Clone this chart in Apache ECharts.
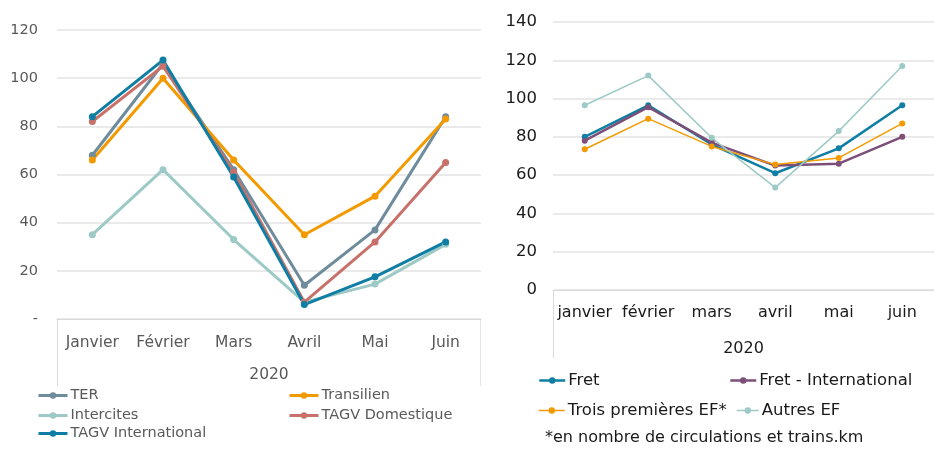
<!DOCTYPE html>
<html>
<head>
<meta charset="utf-8">
<script src="https://cdn.jsdelivr.net/npm/echarts@6/dist/echarts.min.js"></script>
<style>
html,body{margin:0;padding:0;background:#fff;}
#c{width:934px;height:449px;}
</style>
</head>
<body>
<div id="c"></div>
<script>
// ---- Left chart data ----
const leftCategories = ['Janvier', 'Février', 'Mars', 'Avril', 'Mai', 'Juin'];
const leftYear = '2020';
const TER = [68, 106, 62, 14, 37, 84];
const Transilien = [66, 100, 66, 35, 51, 83];
const Intercites = [35, 62, 33, 7, 14.5, 31];
const TAGVDomestique = [82, 105, 61, 7, 32, 65];
const TAGVInternational = [84, 107.5, 59, 6, 17.5, 32];
const leftTicks = { min: 0, max: 120, interval: 20 };

// ---- Right chart data ----
const rightCategories = ['janvier', 'février', 'mars', 'avril', 'mai', 'juin'];
const rightYear = '2020';
const Fret = [80, 96.5, 76, 61, 74, 96.5];
const FretInternational = [78, 95.5, 77, 65, 66, 80];
const TroisPremieres = [73.5, 89.5, 75, 65.5, 69, 87];
const AutresEF = [96.5, 112, 79.5, 53.5, 83, 117];
const rightTicks = { min: 0, max: 140, interval: 20 };
const footnote = '*en nombre de circulations et trains.km';

const FONT = '"DejaVu Sans", sans-serif';
const C = {
  ter: '#6F8C9D', transilien: '#F39A00', intercites: '#9DC9C6',
  dom: '#C8716A', intl: '#0F7EA4', fret: '#0F7EA4', fretInt: '#7C4F79',
  trois: '#F39A00', autres: '#9DC9C6'
};

function line(name, data, color, xi, w, sym) {
  return {
    name, type: 'line', data, xAxisIndex: xi, yAxisIndex: xi,
    symbol: 'circle', symbolSize: sym, showSymbol: true,
    lineStyle: { color, width: w }, itemStyle: { color },
    emphasis: { disabled: true }, animation: false
  };
}

function legend(name, left, top, textColor, size, iw, lw) {
  return {
    data: [name], left, top, itemWidth: iw, itemHeight: 8, itemGap: 0,
    padding: 0,
    lineStyle: { width: lw },
    textStyle: { color: textColor, fontSize: size, fontFamily: FONT, padding: [0, 0, 0, -2] },
    selectedMode: false
  };
}

const chart = echarts.init(document.getElementById('c'), null, { renderer: 'canvas' });
chart.setOption({
  backgroundColor: '#fff',
  animation: false,
  textStyle: { fontFamily: FONT },
  grid: [
    { left: 57, top: 30, width: 424, height: 289 },
    { left: 553, top: 22, right: -6, height: 268 }
  ],
  xAxis: [
    {
      gridIndex: 0, type: 'category', data: leftCategories, boundaryGap: true,
      axisLine: { show: true, lineStyle: { color: '#D9D9D9', width: 1 } },
      axisTick: { show: false },
      axisLabel: { color: '#595959', fontSize: 15.5, margin: 16, interval: 0, fontFamily: FONT },
      name: leftYear, nameLocation: 'middle', nameGap: 48,
      nameTextStyle: { color: '#595959', fontSize: 15.5, fontFamily: FONT }
    },
    {
      gridIndex: 1, type: 'category', data: rightCategories, boundaryGap: true,
      axisLine: { show: true, lineStyle: { color: '#D9D9D9', width: 1 } },
      axisTick: { show: false },
      axisLabel: { color: '#1a1a1a', fontSize: 16, margin: 15, interval: 0, fontFamily: FONT },
      name: rightYear, nameLocation: 'middle', nameGap: 51,
      nameTextStyle: { color: '#1a1a1a', fontSize: 16, fontFamily: FONT }
    }
  ],
  yAxis: [
    {
      gridIndex: 0, type: 'value', min: leftTicks.min, max: leftTicks.max, interval: leftTicks.interval,
      axisLine: { show: false }, axisTick: { show: false },
      splitLine: { lineStyle: { color: '#E3E3E3', width: 1.5 } },
      axisLabel: {
        color: '#595959', fontSize: 14.5, margin: 19, fontFamily: FONT,
        formatter: v => (v === 0 ? '-' : String(v))
      }
    },
    {
      gridIndex: 1, type: 'value', min: rightTicks.min, max: rightTicks.max, interval: rightTicks.interval,
      axisLine: { show: false }, axisTick: { show: false },
      splitLine: { lineStyle: { color: '#E3E3E3', width: 1.5 } },
      axisLabel: { color: '#1a1a1a', fontSize: 16.5, margin: 16, fontFamily: FONT }
    }
  ],
  legend: [
    legend('TER', 37, 388, '#595959', 14.5, 29, 3),
    legend('Intercites', 37, 408, '#595959', 14.5, 29, 3),
    legend('TAGV International', 37, 426, '#595959', 14.5, 29, 3),
    legend('Transilien', 288, 388, '#595959', 14.5, 29, 3),
    legend('TAGV Domestique', 288, 408, '#595959', 14.5, 29, 3),
    legend('Fret', 538, 372, '#1a1a1a', 16.5, 26, 2.5),
    legend('Trois premières EF*', 538, 402, '#1a1a1a', 16.5, 26, 1.5),
    legend('Fret - International', 729, 372, '#1a1a1a', 16.5, 26, 2.5),
    legend('Autres EF', 736, 402, '#1a1a1a', 16.5, 22, 1.5)
  ],
  graphic: [
    { type: 'line', shape: { x1: 57.5, y1: 319, x2: 57.5, y2: 386 }, style: { stroke: '#D9D9D9', lineWidth: 1 }, silent: true },
    { type: 'line', shape: { x1: 480.5, y1: 319, x2: 480.5, y2: 386 }, style: { stroke: '#E6E6E6', lineWidth: 1 }, silent: true },
    { type: 'line', shape: { x1: 553.5, y1: 290, x2: 553.5, y2: 358 }, style: { stroke: '#D9D9D9', lineWidth: 1 }, silent: true },
    { type: 'text', left: 545, top: 430, style: { text: footnote, fill: '#1a1a1a', fontSize: 16, fontFamily: FONT }, silent: true }
  ],
  series: [
    line('TER', TER, C.ter, 0, 3, 7),
    line('Transilien', Transilien, C.transilien, 0, 3, 7),
    line('Intercites', Intercites, C.intercites, 0, 3, 7),
    line('TAGV Domestique', TAGVDomestique, C.dom, 0, 3, 7),
    line('TAGV International', TAGVInternational, C.intl, 0, 3, 7),
    line('Fret', Fret, C.fret, 1, 2.5, 6),
    line('Fret - International', FretInternational, C.fretInt, 1, 2.5, 6),
    line('Trois premières EF*', TroisPremieres, C.trois, 1, 1.5, 6),
    line('Autres EF', AutresEF, C.autres, 1, 1.5, 6)
  ]
});
</script>
</body>
</html>
